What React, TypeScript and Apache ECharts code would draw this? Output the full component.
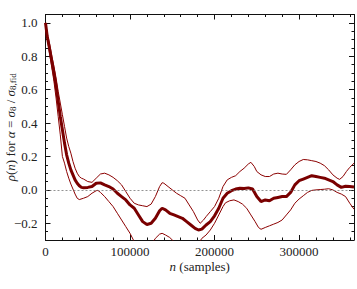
import React, { useEffect, useRef } from 'react';
import * as echarts from 'echarts';

// thick central curve
const nMid = [0, 2000, 5000, 7500, 10000, 12500, 15000, 17500, 20000, 22500, 25000, 27500, 30000, 32500, 35000, 37500, 40000, 42500, 45000, 50000, 55000, 60000, 65000, 70000, 75000, 80000, 85000, 90000, 95000, 100000, 105000, 110000, 115000, 120000, 125000, 130000, 135000, 138000, 142000, 147000, 152000, 157000, 162000, 167000, 172000, 177000, 181000, 185000, 190000, 195000, 200000, 205000, 210000, 215000, 220000, 225000, 230000, 235000, 240000, 245000, 250000, 255000, 260000, 265000, 270000, 275000, 280000, 285000, 290000, 295000, 300000, 305000, 310000, 315000, 320000, 325000, 330000, 335000, 340000, 345000, 350000, 355000, 360000, 365000];
const rhoMid = [1.0, 0.92, 0.84, 0.77, 0.70, 0.62, 0.53, 0.44, 0.36, 0.28, 0.21, 0.16, 0.12, 0.09, 0.06, 0.04, 0.025, 0.015, 0.013, 0.015, 0.02, 0.04, 0.042, 0.03, 0.02, 0.005, -0.02, -0.04, -0.06, -0.09, -0.11, -0.15, -0.19, -0.207, -0.2, -0.17, -0.125, -0.11, -0.12, -0.14, -0.15, -0.16, -0.17, -0.19, -0.21, -0.23, -0.24, -0.235, -0.21, -0.19, -0.155, -0.11, -0.05, -0.02, -0.005, 0.005, 0.01, 0.008, 0.012, 0.005, -0.04, -0.07, -0.06, -0.065, -0.05, -0.045, -0.04, -0.04, -0.015, 0.03, 0.055, 0.065, 0.075, 0.085, 0.08, 0.075, 0.07, 0.06, 0.05, 0.03, 0.015, 0.022, 0.02, 0.018];

// upper envelope
const nUp = [0, 2000, 5000, 7500, 10000, 12500, 15000, 17500, 20000, 22500, 25000, 27500, 30000, 32500, 35000, 37500, 40000, 42500, 45000, 50000, 55000, 60000, 65000, 70000, 75000, 80000, 85000, 90000, 95000, 100000, 105000, 110000, 115000, 120000, 125000, 130000, 135000, 138000, 140000, 145000, 150000, 155000, 160000, 165000, 170000, 175000, 180000, 183000, 187000, 190000, 195000, 200000, 205000, 210000, 215000, 220000, 225000, 230000, 235000, 240000, 243000, 247000, 250000, 255000, 260000, 265000, 270000, 275000, 280000, 285000, 290000, 295000, 300000, 305000, 310000, 315000, 320000, 325000, 330000, 335000, 340000, 345000, 348000, 352000, 356000, 360000, 365000];
const rhoUp = [1.0, 0.94, 0.87, 0.80, 0.74, 0.67, 0.59, 0.52, 0.45, 0.38, 0.31, 0.26, 0.22, 0.17, 0.13, 0.10, 0.08, 0.07, 0.065, 0.05, 0.045, 0.07, 0.095, 0.10, 0.09, 0.075, 0.055, 0.03, -0.01, -0.05, -0.08, -0.09, -0.095, -0.1, -0.085, -0.04, 0.02, 0.043, 0.04, 0.02, 0.0, -0.02, -0.035, -0.05, -0.09, -0.13, -0.18, -0.2, -0.18, -0.16, -0.13, -0.1, -0.05, 0.02, 0.06, 0.075, 0.085, 0.11, 0.13, 0.155, 0.165, 0.14, 0.11, 0.09, 0.08, 0.08, 0.095, 0.1, 0.095, 0.093, 0.12, 0.15, 0.17, 0.182, 0.18, 0.175, 0.17, 0.16, 0.145, 0.12, 0.09, 0.07, 0.063, 0.08, 0.11, 0.135, 0.16];

// lower envelope
const nLow = [0, 2000, 5000, 7500, 10000, 12500, 15000, 17500, 20000, 22500, 25000, 27500, 30000, 32500, 35000, 37500, 40000, 45000, 50000, 55000, 60000, 62000, 65000, 70000, 75000, 80000, 85000, 90000, 95000, 100000, 105000, 110000, 120000, 125000, 130000, 135000, 138000, 142000, 147000, 152000, 160000, 175000, 181000, 185000, 190000, 195000, 200000, 205000, 210000, 213000, 218000, 223000, 228000, 233000, 238000, 243000, 248000, 252000, 255000, 260000, 265000, 270000, 275000, 280000, 285000, 290000, 295000, 300000, 305000, 310000, 315000, 320000, 325000, 330000, 335000, 340000, 345000, 350000, 355000, 360000, 365000];
const rhoLow = [1.0, 0.91, 0.81, 0.73, 0.65, 0.55, 0.44, 0.33, 0.2, 0.16, 0.11, 0.07, 0.035, 0.005, -0.025, -0.05, -0.058, -0.05, -0.04, -0.02, -0.005, -0.003, -0.015, -0.04, -0.07, -0.1, -0.14, -0.18, -0.22, -0.26, -0.31, -0.36, -0.38, -0.33, -0.29, -0.265, -0.26, -0.27, -0.285, -0.31, -0.35, -0.36, -0.32, -0.29, -0.27, -0.24, -0.2, -0.15, -0.1, -0.077, -0.065, -0.06, -0.07, -0.085, -0.11, -0.15, -0.19, -0.225, -0.236, -0.225, -0.215, -0.205, -0.195, -0.18, -0.15, -0.12, -0.08, -0.055, -0.035, -0.015, -0.003, 0.0, 0.002, 0.004, 0.007, 0.0, -0.015, -0.025, -0.04, -0.08, -0.116];

const xTicks = [0, 100000, 200000, 300000];
const yTicks = [-0.2, 0.0, 0.2, 0.4, 0.6, 0.8, 1.0];
const zeroLine = 0;

const FONT = "'Liberation Serif', 'Times New Roman', serif";
const TXT = '#222';
const AX = '#111';

function pairs(xs: number[], ys: number[]) {
  return xs.map((x, i) => [x, ys[i]]);
}

export default function App() {
  const ref = useRef<HTMLDivElement>(null);
  useEffect(() => {
    if (!ref.current) return;
    const chart = echarts.init(ref.current, null, { renderer: 'svg' });
    const xMin = 0, xMax = 365000, yMin = -0.3, yMax = 1.05;
    const lineCommon = { show: true, onZero: false, lineStyle: { color: AX, width: 1 } };
    const xMajor = (pos: string, labels: boolean) => ({
      type: 'value', min: xMin, max: xMax, position: pos, interval: 100000,
      axisLine: lineCommon,
      axisTick: { show: true, inside: true, length: 5, customValues: xTicks, lineStyle: { color: AX, width: 1 } },
      axisLabel: labels ? {
        show: true, customValues: xTicks, margin: 5, fontFamily: FONT, fontSize: 13, color: TXT,
        formatter: (v: number) => String(v),
      } : { show: false },
      splitLine: { show: false },
    });
    const xMinor = (pos: string) => ({
      type: 'value', min: xMin, max: xMax, position: pos, interval: 20000,
      axisLine: { show: false, onZero: false },
      axisTick: { show: true, inside: true, length: 2.5, lineStyle: { color: AX, width: 1 } },
      axisLabel: { show: false }, splitLine: { show: false },
    });
    const yMajor = (pos: string, labels: boolean) => ({
      type: 'value', min: yMin, max: yMax, position: pos, interval: 0.05,
      axisLine: lineCommon,
      axisTick: { show: true, inside: true, length: 5, customValues: yTicks, lineStyle: { color: AX, width: 1 } },
      axisLabel: labels ? {
        show: true, customValues: yTicks, margin: 8, fontFamily: FONT, fontSize: 13, color: TXT,
        formatter: (v: number) => v.toFixed(1).replace('-', '\u2212'),
      } : { show: false },
      splitLine: { show: false },
    });
    const yMinor = (pos: string) => ({
      type: 'value', min: yMin, max: yMax, position: pos, interval: 0.05,
      axisLine: { show: false, onZero: false },
      axisTick: { show: true, inside: true, length: 2.5, lineStyle: { color: AX, width: 1 } },
      axisLabel: { show: false }, splitLine: { show: false },
    });
    const rich = {
      i: { fontFamily: FONT, fontSize: 13, fontStyle: 'italic', color: TXT, lineHeight: 15 },
      r: { fontFamily: FONT, fontSize: 13, color: TXT, lineHeight: 15 },
      s: { fontFamily: FONT, fontSize: 9, color: TXT, lineHeight: 15, verticalAlign: 'bottom' },
    };
    const xName = Object.assign(xMajor('bottom', true), {
      name: '{i|n}{r| (samples)}', nameLocation: 'middle', nameGap: 19, nameMoveOverlap: false,
      nameTextStyle: { fontFamily: FONT, fontSize: 13, color: TXT, rich },
    });
    const yName = Object.assign(yMajor('left', true), {
      name: '{i|ρ}{r|(}{i|n}{r|) for }{i|α}{r| = }{i|σ}{s|8}{r| / }{i|σ}{s|8,fid}',
      nameLocation: 'middle', nameGap: 28, nameRotate: 90, nameMoveOverlap: false,
      nameTextStyle: { fontFamily: FONT, fontSize: 13, color: TXT, rich },
    });
    const thin = { color: '#8b0000', width: 1 };
    chart.setOption({
      animation: false,
      backgroundColor: '#ffffff',
      textStyle: { fontFamily: FONT },
      grid: { left: 45.5, top: 14.5, width: 308.5, height: 225.5, containLabel: false, outerBoundsMode: 'none' },
      xAxis: [xName, xMinor('bottom'), xMajor('top', false), xMinor('top')],
      yAxis: [yName, yMinor('left'), yMajor('right', false), yMinor('right')],
      series: [
        {
          type: 'line', name: 'upper', data: pairs(nUp, rhoUp), showSymbol: false, symbol: 'none',
          lineStyle: thin, clip: true, z: 3,
          markLine: {
            silent: true, symbol: 'none', label: { show: false },
            lineStyle: { color: '#777', width: 0.8, type: [2, 2] },
            data: [{ yAxis: zeroLine }],
          },
        },
        {
          type: 'line', name: 'lower', data: pairs(nLow, rhoLow), showSymbol: false, symbol: 'none',
          lineStyle: thin, clip: true, z: 3,
        },
        {
          type: 'line', name: 'mean', data: pairs(nMid, rhoMid), showSymbol: false, symbol: 'none',
          lineStyle: { color: '#7a0000', width: 3 }, clip: true, z: 4,
        },
      ],
    });
    return () => chart.dispose();
  }, []);
  return <div ref={ref} style={{ position: 'fixed', left: 0, top: 0, width: 357, height: 289, background: '#fff' }} />;
}
